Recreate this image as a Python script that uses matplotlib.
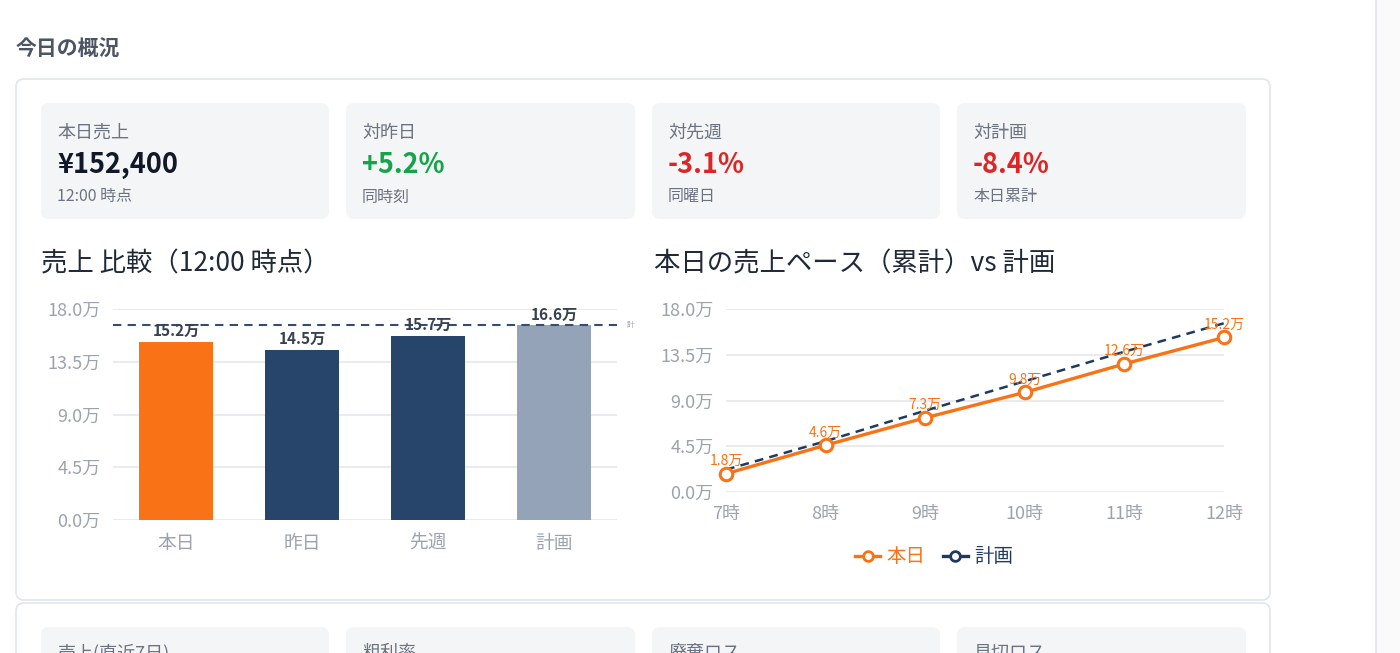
import matplotlib.pyplot as plt
from matplotlib.patches import FancyBboxPatch
from matplotlib.lines import Line2D

plt.rcParams['font.family'] = ['Noto Sans CJK JP', 'DejaVu Sans']

# データ
section_title = '今日の概況'
kpi_labels = ['本日売上', '対昨日', '対先週', '対計画']
kpi_values = ['¥152,400', '+5.2%', '-3.1%', '-8.4%']
kpi_notes = ['12:00 時点', '同時刻', '同曜日', '本日累計']
kpi_colors = ['#111827', '#16a34a', '#dc2626', '#dc2626']

bar_title = '売上 比較（12:00 時点）'
bar_cats = ['本日', '昨日', '先週', '計画']
bar_vals = [15.2, 14.5, 15.7, 16.6]   # 万円
bar_colors = ['#f97316', '#27456b', '#27456b', '#94a3b8']
plan_total = 16.6

line_title = '本日の売上ペース（累計）vs 計画'
hours = ['7時', '8時', '9時', '10時', '11時', '12時']
today_cum = [1.8, 4.6, 7.3, 9.8, 12.6, 15.2]
plan_cum = [2.2, 5.0, 8.0, 10.9, 13.8, 16.6]

next_labels = ['売上(直近7日)', '粗利率', '廃棄ロス', '見切ロス']

y_ticks = [0, 4.5, 9.0, 13.5, 18.0]
W, H = 1400, 653

fig = plt.figure(figsize=(W / 100, H / 100), dpi=100)
fig.patch.set_facecolor('white')

# 背景（ピクセル座標）
bg = fig.add_axes([0, 0, 1, 1])
bg.set_xlim(0, W)
bg.set_ylim(H, 0)
bg.axis('off')

def card(x0, y0, x1, y1, fc, ec='none', r=8):
    bg.add_patch(FancyBboxPatch((x0, y0), x1 - x0, y1 - y0,
                                boxstyle=f'round,pad=0,rounding_size={r}',
                                fc=fc, ec=ec, lw=1.2))

bg.fill_between([1376, W], 0, H, color='#fafafa')
bg.plot([1376, 1376], [0, H], color='#e5e7eb', lw=1.5)

bg.text(16, 49, section_title, fontsize=15, fontweight='bold', color='#4b5563', va='center')
card(16, 79, 1270, 600, 'white', '#e2e5ea')
card(16, 603, 1270, 700, 'white', '#e2e5ea')

card_x = [(41, 329), (346, 635), (652, 940), (957, 1246)]
for i, (x0, x1) in enumerate(card_x):
    card(x0, 103, x1, 219, '#f4f5f7')
    bg.text(x0 + 16, 133, kpi_labels[i], fontsize=13, color='#6b7280', va='center')
    bg.text(x0 + 16, 165, kpi_values[i], fontsize=19.5, fontweight='bold',
            color=kpi_colors[i], va='center')
    bg.text(x0 + 16, 197, kpi_notes[i], fontsize=11.5, color='#6b7280', va='center')
    card(x0, 627, x1, 720, '#f4f5f7')
    bg.text(x0 + 16, 644, next_labels[i], fontsize=13, color='#6b7280', va='top')

bg.text(41, 264, bar_title, fontsize=19, color='#1f2937', va='center')
bg.text(654, 264, line_title, fontsize=19, color='#1f2937', va='center')

def px_axes(x0, y0, x1, y1):
    return fig.add_axes([x0 / W, 1 - y1 / H, (x1 - x0) / W, (y1 - y0) / H])

def style(ax):
    for s in ax.spines.values():
        s.set_visible(False)
    ax.set_ylim(0, 18)
    ax.set_yticks(y_ticks)
    ax.set_yticklabels([f'{v:.1f}万' for v in y_ticks])
    ax.grid(axis='y', color='#e5e7eb', lw=1.2)
    ax.set_axisbelow(True)
    ax.tick_params(length=0, labelsize=13, labelcolor='#9ca3af')
    ax.tick_params(axis='y', pad=9)
    ax.patch.set_alpha(0)

# 棒グラフ
ax1 = px_axes(113, 309, 617, 520)
style(ax1)
xs = range(len(bar_cats))
ax1.bar(xs, bar_vals, width=0.58, color=bar_colors)
ax1.set_xlim(-0.5, len(bar_cats) - 0.5)
ax1.set_xticks(list(xs))
ax1.set_xticklabels(bar_cats)
ax1.tick_params(axis='x', labelsize=13.5, pad=9)
for x, v in zip(xs, bar_vals):
    ax1.annotate(f'{v}万', (x, v), xytext=(0, 2), textcoords='offset points',
                 ha='center', va='bottom', fontsize=11, fontweight='bold', color='#374151')
ax1.axhline(plan_total, color='#334e70', lw=1.5, ls=(0, (4, 3)))
ax1.text(1.02, plan_total, '計', transform=ax1.get_yaxis_transform(), fontsize=5.5,
         color='#9ca3af', va='center', ha='left')

# 折れ線グラフ
ax2 = px_axes(726, 309, 1224, 492)
style(ax2)
hx = range(len(hours))
ax2.plot(hx, plan_cum, color='#1e3a5f', lw=1.8, ls=(0, (3.5, 2.5)), clip_on=False)
ax2.plot(hx, today_cum, color='#f97316', lw=2.4, marker='o', ms=9, mfc='white',
         mew=2.2, clip_on=False, zorder=3)
ax2.set_xlim(0, len(hours) - 1)
ax2.set_xticks(list(hx))
ax2.set_xticklabels(hours)
ax2.tick_params(axis='x', pad=9)
for x, v in zip(hx, today_cum):
    ax2.annotate(f'{v}万', (x, v), xytext=(0, 4), textcoords='offset points',
                 ha='center', va='bottom', fontsize=10, color='#f97316')

handles = [
    Line2D([], [], color='#f97316', lw=2.4, marker='o', ms=7, mfc='white', mew=2),
    Line2D([], [], color='#1e3a5f', lw=2.4, marker='o', ms=7, mfc='white', mew=2),
]
fig.legend(handles, ['本日', '計画'], loc='center', bbox_to_anchor=(934 / W, 1 - 557 / H),
           ncol=2, frameon=False, fontsize=14, handlelength=1.3, handletextpad=0.3,
           columnspacing=0.9, labelcolor='linecolor')

fig.savefig('out.png', dpi=100)
